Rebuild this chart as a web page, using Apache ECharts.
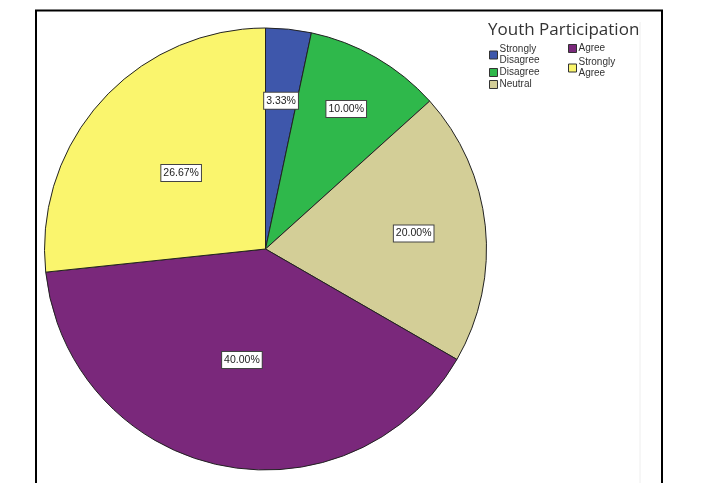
<!DOCTYPE html>
<html>
<head>
<meta charset="utf-8">
<script src="https://cdn.jsdelivr.net/npm/echarts@6/dist/echarts.min.js"></script>
<style>
  html, body { margin: 0; padding: 0; background: #fff; }
  #chart { width: 704px; height: 483px; }
</style>
</head>
<body>
<div id="chart"></div>
<script>
// data
var categories = ['Strongly Disagree', 'Disagree', 'Neutral', 'Agree', 'Strongly Agree'];
var percents = [3.33, 10.00, 20.00, 40.00, 26.67];
var colors = ['#3e57ab', '#2fb84b', '#d3ce97', '#7a287b', '#faf56d'];

// which overlay carries which label (SPSS puts them at varying depths)
var labelRing = [1, 2, 1, 0, 0];

var CX = 265.5, CY = 249, R = 221;
var ringRadius = [R, 292, 317];

function makeData(ring, withColor) {
    return categories.map(function (c, i) {
        var item = { name: c, value: percents[i] };
        item.label = { show: labelRing[i] === ring };
        if (withColor) item.itemStyle = { color: colors[i] };
        return item;
    });
}

var labelStyle = {
    position: 'inside',
    formatter: function (p) { return p.value.toFixed(2) + '%'; },
    backgroundColor: '#fff',
    borderColor: '#444',
    borderWidth: 1,
    padding: [3, 2, 2, 2],
    fontSize: 10.5,
    fontFamily: 'Liberation Sans',
    color: '#222'
};

var series = ringRadius.map(function (rad, k) {
    return {
        type: 'pie',
        center: [CX, CY],
        radius: [0, rad],
        startAngle: 90,
        clockwise: true,
        silent: k > 0,
        z: k + 2,
        animation: false,
        labelLine: { show: false },
        label: labelStyle,
        emphasis: { disabled: true },
        itemStyle: k === 0
            ? { borderColor: '#222', borderWidth: 1 }
            : { color: 'rgba(0,0,0,0)', borderWidth: 0 },
        data: makeData(k, k === 0)
    };
});

var legendCommon = {
    orient: 'vertical',
    padding: 0,
    itemWidth: 8,
    itemHeight: 8,
    itemGap: 1,
    icon: 'rect',
    selectedMode: false,
    itemStyle: { borderColor: '#333', borderWidth: 1 },
    formatter: function (name) { return name.replace('Strongly ', 'Strongly\n'); },
    textStyle: {
        fontSize: 10,
        lineHeight: 11,
        color: '#333',
        fontFamily: 'Liberation Sans',
        padding: [0, 0, 0, -3]
    }
};

var option = {
    backgroundColor: '#fff',
    title: {
        text: 'Youth Participation',
        left: 488,
        top: 22,
        padding: 0,
        textStyle: {
            fontSize: 17,
            fontWeight: 'normal',
            color: '#333',
            fontFamily: 'Open Sans'
        }
    },
    legend: [
        Object.assign({}, legendCommon, { left: 489, top: 44, data: categories.slice(0, 3) }),
        Object.assign({}, legendCommon, { left: 568, top: 43, itemGap: 3, data: categories.slice(3) })
    ],
    graphic: [
        {
            type: 'line',
            shape: { x1: 640, y1: 22, x2: 640, y2: 483 },
            style: { stroke: '#eeeeee', lineWidth: 1 }
        },
        {
            type: 'rect',
            shape: { x: 36, y: 10.5, width: 626, height: 500 },
            style: { fill: null, stroke: '#000', lineWidth: 2 }
        }
    ],
    series: series
};

var chart = echarts.init(document.getElementById('chart'));
chart.setOption(option);
</script>
</body>
</html>
